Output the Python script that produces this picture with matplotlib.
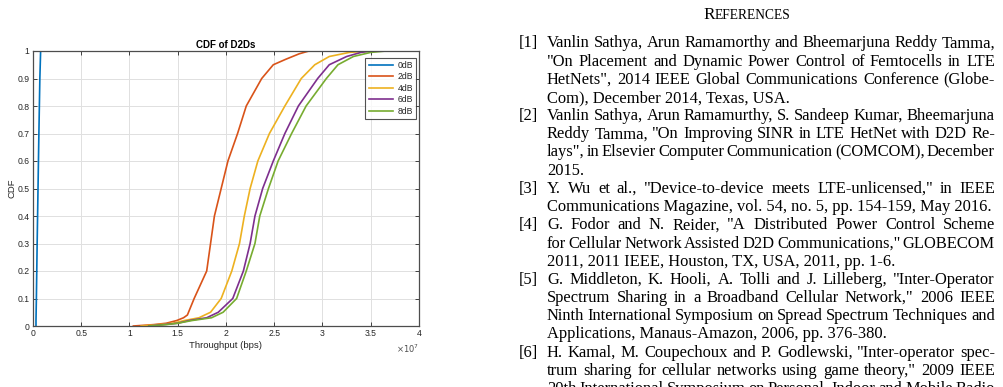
import numpy as np
import matplotlib
matplotlib.use("Agg")
import matplotlib.pyplot as plt

# ---------------- data (throughput in units of 1e7 bps) ----------------
series_names = ["0dB", "2dB", "4dB", "6dB", "8dB"]
cdf_0 = [0.0, 0.02, 0.1, 0.3, 0.5, 0.7, 0.9, 1.0]
thr_0 = [0.031, 0.031, 0.035, 0.043, 0.052, 0.061, 0.071, 0.079]

cdf_2 = [0.0, 0.005, 0.01, 0.02, 0.03, 0.04, 0.1, 0.2, 0.3, 0.4, 0.5, 0.6, 0.7, 0.8, 0.9, 0.95, 0.97, 0.99, 1.0]
thr_2 = [1.04, 1.25, 1.38, 1.49, 1.56, 1.60, 1.67, 1.80, 1.84, 1.88, 1.95, 2.02, 2.12, 2.21, 2.37, 2.49, 2.62, 2.76, 2.86]

cdf_4 = [0.0, 0.005, 0.01, 0.02, 0.03, 0.05, 0.1, 0.2, 0.3, 0.4, 0.5, 0.6, 0.7, 0.8, 0.9, 0.95, 0.98, 0.995, 1.0]
thr_4 = [1.12, 1.30, 1.45, 1.57, 1.72, 1.84, 1.95, 2.06, 2.14, 2.19, 2.25, 2.33, 2.45, 2.61, 2.78, 2.92, 3.07, 3.28, 3.49]

cdf_6 = [0.0, 0.005, 0.01, 0.02, 0.03, 0.05, 0.1, 0.2, 0.3, 0.4, 0.5, 0.6, 0.7, 0.8, 0.9, 0.95, 0.98, 0.995, 1.0]
thr_6 = [1.20, 1.35, 1.50, 1.62, 1.80, 1.92, 2.07, 2.18, 2.25, 2.30, 2.38, 2.49, 2.61, 2.75, 2.95, 3.07, 3.25, 3.40, 3.51]

cdf_8 = [0.0, 0.005, 0.01, 0.02, 0.03, 0.05, 0.1, 0.2, 0.3, 0.4, 0.5, 0.6, 0.7, 0.8, 0.9, 0.95, 0.98, 0.995, 1.0]
thr_8 = [1.20, 1.38, 1.50, 1.65, 1.85, 1.97, 2.11, 2.21, 2.30, 2.35, 2.44, 2.54, 2.68, 2.83, 3.04, 3.16, 3.32, 3.50, 3.66]

xticks = [0, 0.5, 1, 1.5, 2, 2.5, 3, 3.5, 4]
xtick_labels = ["0", "0.5", "1", "1.5", "2", "2.5", "3", "3.5", "4"]
yticks = [0, 0.1, 0.2, 0.3, 0.4, 0.5, 0.6, 0.7, 0.8, 0.9, 1]
ytick_labels = ["0", "0.1", "0.2", "0.3", "0.4", "0.5", "0.6", "0.7", "0.8", "0.9", "1"]

ref_title = "References"
ref_entries = [
    ("[1]", ["Vanlin Sathya, Arun Ramamorthy and Bheemarjuna Reddy Tamma,",
             "\"On Placement and Dynamic Power Control of Femtocells in LTE",
             "HetNets\", 2014 IEEE Global Communications Conference (Globe-",
             "Com), December 2014, Texas, USA."]),
    ("[2]", ["Vanlin Sathya, Arun Ramamurthy, S. Sandeep Kumar, Bheemarjuna",
             "Reddy Tamma, \"On Improving SINR in LTE HetNet with D2D Re-",
             "lays\", in Elsevier Computer Communication (COMCOM), December",
             "2015."]),
    ("[3]", ["Y. Wu et al., \"Device-to-device meets LTE-unlicensed,\" in IEEE",
             "Communications Magazine, vol. 54, no. 5, pp. 154-159, May 2016."]),
    ("[4]", ["G. Fodor and N. Reider, \"A Distributed Power Control Scheme",
             "for Cellular Network Assisted D2D Communications,\" GLOBECOM",
             "2011, 2011 IEEE, Houston, TX, USA, 2011, pp. 1-6."]),
    ("[5]", ["G. Middleton, K. Hooli, A. Tolli and J. Lilleberg, \"Inter-Operator",
             "Spectrum Sharing in a Broadband Cellular Network,\" 2006 IEEE",
             "Ninth International Symposium on Spread Spectrum Techniques and",
             "Applications, Manaus-Amazon, 2006, pp. 376-380."]),
    ("[6]", ["H. Kamal, M. Coupechoux and P. Godlewski, \"Inter-operator spec-",
             "trum sharing for cellular networks using game theory,\" 2009 IEEE",
             "20th International Symposium on Personal, Indoor and Mobile Radio"]),
]

# ---------------- figure ----------------
W, H = 1004, 387
fig = plt.figure(figsize=(W / 100, H / 100), dpi=100)
fig.patch.set_facecolor("white")

colors = [(0, 0.447, 0.741), (0.85, 0.325, 0.098), (0.929, 0.694, 0.125),
          (0.494, 0.184, 0.556), (0.466, 0.674, 0.188)]
sans = ["Liberation Sans", "DejaVu Sans"]
dark = (0.15, 0.15, 0.15)

ax = fig.add_axes([33 / W, 1 - 326 / H, (419 - 33) / W, (326 - 51) / H])
for (xs, ys), c, n in zip([(thr_0, cdf_0), (thr_2, cdf_2), (thr_4, cdf_4),
                           (thr_6, cdf_6), (thr_8, cdf_8)], colors, series_names):
    ax.plot(xs, ys, color=c, lw=1.2, label=n)

ax.set_xlim(0, 4)
ax.set_ylim(0, 1)
ax.set_xticks(xticks)
ax.set_xticklabels(xtick_labels)
ax.set_yticks(yticks)
ax.set_yticklabels(ytick_labels)
ax.grid(True, color=(0.88, 0.88, 0.88), lw=0.7)
ax.set_axisbelow(True)
ax.tick_params(direction="in", length=3, width=0.6, top=True, right=True,
               labelsize=6.2, labelcolor=dark, pad=2.5, color=dark)
for lab in ax.get_xticklabels() + ax.get_yticklabels():
    lab.set_family(sans)
for s in ax.spines.values():
    s.set_color((0.3, 0.3, 0.3))
    s.set_linewidth(0.9)
ax.set_title("CDF of D2Ds", fontsize=7, fontweight="bold", family=sans, pad=2.5,
             color="black")
ax.set_xlabel("Throughput (bps)", fontsize=6.8, family=sans, labelpad=2,
              color=dark)
ax.set_ylabel("CDF", fontsize=6.8, family=sans, labelpad=1, color=dark)
fig.text(419 / W, 1 - 353 / H, r"$\times10^{7}$", fontsize=6, ha="right",
         va="baseline", color=(0.3, 0.3, 0.3), family=sans)

leg = ax.legend(loc="upper right", frameon=True, fancybox=False,
                handlelength=2.9, handletextpad=0.5, borderpad=0.35,
                labelspacing=0.28, borderaxespad=0.0,
                bbox_to_anchor=(0.993, 0.975),
                prop={"family": sans, "size": 6.2})
leg.get_frame().set_edgecolor((0.15, 0.15, 0.15))
leg.get_frame().set_linewidth(0.8)
for t in leg.get_texts():
    t.set_color(dark)

# ---------------- references column ----------------
serif = ["Liberation Serif", "DejaVu Serif"]
renderer = fig.canvas.get_renderer()


def text_width(s, size):
    t = fig.text(0, 0, s, fontsize=size, family=serif)
    w = t.get_window_extent(renderer).width
    t.remove()
    return w

# calibrate font size from a known full-width line
calib = ref_entries[2][1][1]
fs = 10 * 444 / text_width(calib, 10)

left_px, right_px, label_px = 547, 995, 519
base0, step = 47.3, 18.2


def fy(py):
    return 1 - py / H

# title in small caps
cap = ref_title[0]
rest = ref_title[1:].upper()
w1 = text_width(cap, fs * 1.05)
w2 = text_width(rest, fs * 0.82)
tx = 747 - (w1 + w2) / 2
fig.text(tx / W, fy(19), cap, fontsize=fs * 1.05, family=serif, va="baseline")
fig.text((tx + w1) / W, fy(19), rest, fontsize=fs * 0.82, family=serif,
         va="baseline")

line_i = 0
for label, lines in ref_entries:
    for j, line in enumerate(lines):
        y = fy(base0 + step * line_i)
        if j == 0:
            fig.text(label_px / W, y, label, fontsize=fs, family=serif,
                     va="baseline")
        words = line.split(" ")
        last = (j == len(lines) - 1) and label != "[6]"
        if last or len(words) == 1:
            fig.text(left_px / W, y, line, fontsize=fs, family=serif,
                     va="baseline")
        else:
            widths = [text_width(wd, fs) for wd in words]
            gap = (right_px - left_px - sum(widths)) / (len(words) - 1)
            x = left_px
            for wd, wv in zip(words, widths):
                fig.text(x / W, y, wd, fontsize=fs, family=serif, va="baseline")
                x += wv + gap
        line_i += 1

fig.savefig("out.png", dpi=100)
